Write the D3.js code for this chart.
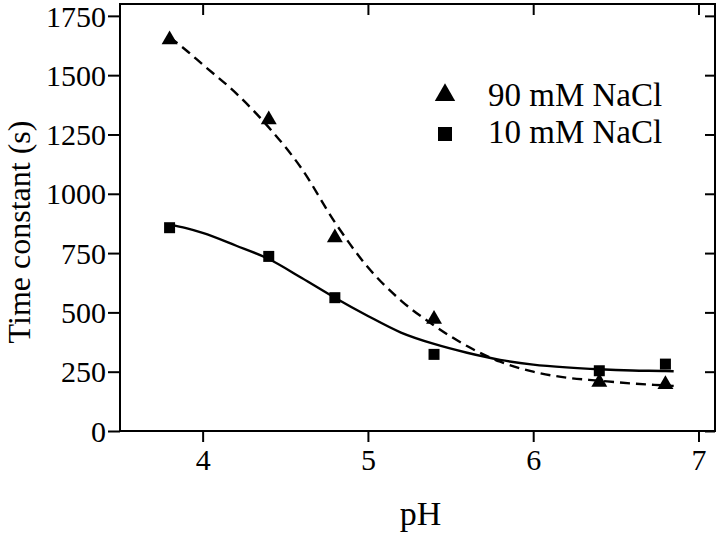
<!DOCTYPE html>
<html>
<head>
<meta charset="utf-8">
<script src="https://cdn.jsdelivr.net/npm/d3@7"></script>
<style>
  html, body { margin: 0; padding: 0; background: #fff; }
  svg { display: block; }
  text { font-family: "Liberation Serif", "Times New Roman", serif; fill: #000; }
</style>
</head>
<body>
<svg id="chart" width="720" height="536"></svg>
<script>
// ---- data ----
const pH = [3.8, 4.4, 4.8, 5.4, 6.4, 6.8];
const nacl90 = [1650, 1312, 815, 471, 206, 196];
const nacl10 = [857, 736, 562, 323, 254, 282];

// fitted curves
const fitPH = [3.8, 3.9, 4.0, 4.2, 4.4, 4.6, 4.8, 5.0, 5.2, 5.4, 5.6, 5.8, 6.0, 6.2, 6.4, 6.6, 6.8, 6.85];
const fit90 = [1660, 1605, 1545, 1425, 1280, 1105, 880, 690, 550, 445, 358, 292, 250, 225, 212, 200, 192, 190];
const fit10 = [870, 855, 835, 782, 725, 645, 562, 485, 415, 367, 330, 300, 280, 268, 260, 255, 253, 252];

const xTicks = [4, 5, 6, 7];
const yTicks = [0, 250, 500, 750, 1000, 1250, 1500, 1750];
const seriesNames = ["90 mM NaCl", "10 mM NaCl"];
const xTitle = "pH";
const yTitle = "Time constant (s)";

// ---- layout ----
const L = 120, R = 715, T = 4, B = 431;
const svg = d3.select("#chart");
const x = d3.scaleLinear().domain([3.5, 7.1]).range([L, R]);
const y = d3.scaleLinear().domain([0, 1800]).range([B, T]);

// frame
svg.append("rect")
  .attr("x", L).attr("y", T).attr("width", R - L).attr("height", B - T)
  .attr("fill", "none").attr("stroke", "#000").attr("stroke-width", 2);

// bottom axis
const xAxis = svg.append("g").attr("transform", `translate(0,${B})`)
  .call(d3.axisBottom(x).tickValues(xTicks).tickSize(11).tickPadding(6).tickFormat(d3.format("d")));
// left axis
const yAxis = svg.append("g").attr("transform", `translate(${L},0)`)
  .call(d3.axisLeft(y).tickValues(yTicks).tickSize(12).tickPadding(2).tickFormat(d3.format("d")));
// top axis (inner ticks)
const xTop = svg.append("g").attr("transform", `translate(0,${T})`)
  .call(d3.axisTop(x).tickValues(xTicks).tickSize(-11).tickFormat(""));
// right axis (inner ticks)
const yRight = svg.append("g").attr("transform", `translate(${R},0)`)
  .call(d3.axisRight(y).tickValues(yTicks).tickSize(-10).tickFormat(""));

[xAxis, yAxis, xTop, yRight].forEach(g => {
  g.select(".domain").remove();
  g.selectAll("line").attr("stroke", "#000").attr("stroke-width", 2);
  g.selectAll("text").attr("font-size", 30).attr("fill", "#000")
    .style("font-family", '"Liberation Serif", "Times New Roman", serif');
});
yAxis.selectAll("text").attr("dy", "0.34em");
xAxis.selectAll("text").attr("dy", "0.72em");

// axis titles
svg.append("text").attr("x", (L + R) / 2 + 3).attr("y", 525)
  .attr("text-anchor", "middle").attr("font-size", 34).text(xTitle);
svg.append("text").attr("transform", "translate(30,232) rotate(-90)")
  .attr("text-anchor", "middle").attr("font-size", 32).text(yTitle);

// fitted curves
const fitLine = (vals) => d3.line()
  .x((d, i) => x(fitPH[i])).y(d => y(d))
  .curve(d3.curveMonotoneX)(vals);

svg.append("path").attr("d", fitLine(fit90))
  .attr("fill", "none").attr("stroke", "#000").attr("stroke-width", 2.4)
  .attr("stroke-dasharray", "10,6");
svg.append("path").attr("d", fitLine(fit10))
  .attr("fill", "none").attr("stroke", "#000").attr("stroke-width", 2.4);

// markers
const tri = d3.symbol().type(d3.symbolTriangle).size(110);
const sq = d3.symbol().type(d3.symbolSquare).size(121);

svg.append("g").selectAll("path").data(nacl90).join("path")
  .attr("d", tri)
  .attr("transform", (d, i) => `translate(${x(pH[i])},${y(d)})`)
  .attr("fill", "#000");
svg.append("g").selectAll("path").data(nacl10).join("path")
  .attr("d", sq)
  .attr("transform", (d, i) => `translate(${x(pH[i])},${y(d)})`)
  .attr("fill", "#000");

// legend
const lg = svg.append("g");
lg.append("path").attr("d", d3.symbol().type(d3.symbolTriangle).size(180)())
  .attr("transform", "translate(445,95)").attr("fill", "#000");
lg.append("path").attr("d", d3.symbol().type(d3.symbolSquare).size(196)())
  .attr("transform", "translate(445,134)").attr("fill", "#000");
lg.append("text").attr("x", 488).attr("y", 106).attr("font-size", 33).text(seriesNames[0]);
lg.append("text").attr("x", 488).attr("y", 143).attr("font-size", 33).text(seriesNames[1]);
</script>
</body>
</html>
